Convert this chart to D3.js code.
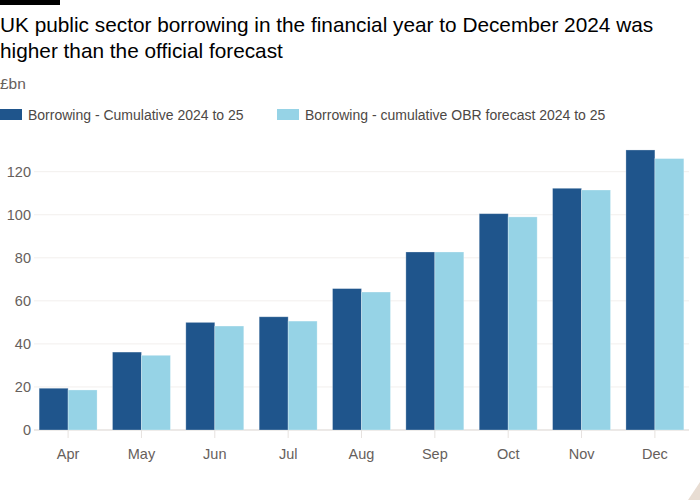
<!DOCTYPE html>
<html>
<head>
<meta charset="utf-8">
<script src="https://cdn.jsdelivr.net/npm/d3@7"></script>
<style>
  html, body { margin: 0; padding: 0; background: #ffffff; }
  svg { display: block; }
</style>
</head>
<body>
<svg id="chart" width="700" height="500"></svg>
<script>
const months = ["Apr", "May", "Jun", "Jul", "Aug", "Sep", "Oct", "Nov", "Dec"];
const borrowing = [19.4, 36.2, 50.0, 52.6, 65.7, 82.7, 100.5, 112.3, 130.1];
const obrForecast = [18.6, 34.7, 48.3, 50.6, 64.1, 82.7, 99.0, 111.5, 126.1];
const yTicks = [0, 20, 40, 60, 80, 100, 120];
const seriesNames = ["Borrowing - Cumulative 2024 to 25", "Borrowing - cumulative OBR forecast 2024 to 25"];
const seriesColors = ["#1f558c", "#96d3e6"];

const font = "'Liberation Sans', Arial, sans-serif";
const svg = d3.select("#chart");

// top black bar
svg.append("rect").attr("x", 0).attr("y", 0).attr("width", 60).attr("height", 5).attr("fill", "#000");

// title
const title = svg.append("text").attr("font-family", font).attr("font-size", 20.8).attr("fill", "#000");
title.append("tspan").attr("x", 0).attr("y", 32).text("UK public sector borrowing in the financial year to December 2024 was");
title.append("tspan").attr("x", 0).attr("y", 58).text("higher than the official forecast");

svg.append("text").attr("x", 0).attr("y", 89).attr("font-family", font).attr("font-size", 15.5)
  .attr("fill", "#66605c").text("£bn");

// legend
const legendX = [0, 277];
seriesNames.forEach((name, i) => {
  svg.append("rect").attr("x", legendX[i]).attr("y", 109).attr("width", 22).attr("height", 11)
    .attr("fill", seriesColors[i]);
  svg.append("text").attr("x", legendX[i] + 28).attr("y", 120).attr("font-family", font)
    .attr("font-size", 14).attr("fill", "#4d4845").text(name);
});

const y = d3.scaleLinear().domain([0, 120]).range([430, 171.7]);
const x = d3.scaleBand().domain(months).range([34, 689]).paddingInner(0.21).paddingOuter(0.07);
const xs = d3.scaleBand().domain([0, 1]).range([0, x.bandwidth()]);

// gridlines
svg.append("g").selectAll("line").data(yTicks).join("line")
  .attr("x1", 34).attr("x2", 689)
  .attr("y1", d => y(d)).attr("y2", d => y(d))
  .attr("stroke", d => d === 0 ? "#e6e2df" : "#f2efed").attr("stroke-width", d => d === 0 ? 1.5 : 1);

// y labels
const yAxis = d3.axisLeft(y).tickValues(yTicks).tickSize(0).tickPadding(0);
const gy = svg.append("g").attr("transform", "translate(31,0)").call(yAxis);
gy.select(".domain").remove();
gy.selectAll("text").attr("font-family", font).attr("font-size", 14.5).attr("fill", "#66605c");

// bars
const series = [borrowing, obrForecast];
series.forEach((vals, si) => {
  svg.append("g").selectAll("rect").data(months).join("rect")
    .attr("x", (m) => x(m) + xs(si))
    .attr("width", xs.bandwidth())
    .attr("y", (m, i) => y(vals[i]))
    .attr("height", (m, i) => y(0) - y(vals[i]))
    .attr("fill", seriesColors[si])
    .attr("stroke", "rgba(255,255,255,0.35)")
    .attr("stroke-width", 0.8);
});

// x axis
const xAxis = d3.axisBottom(x).tickSize(8).tickPadding(11);
const gx = svg.append("g").attr("transform", "translate(0,430)").call(xAxis);
gx.select(".domain").remove();
gx.selectAll(".tick line").attr("stroke", "#e6e2df");
gx.selectAll("text").attr("font-family", font).attr("font-size", 14.5).attr("fill", "#66605c");

// corner decoration
svg.append("path").attr("d", "M700,482 L700,500 L688,500 Z").attr("fill", "#e8ddd3");
</script>
</body>
</html>
